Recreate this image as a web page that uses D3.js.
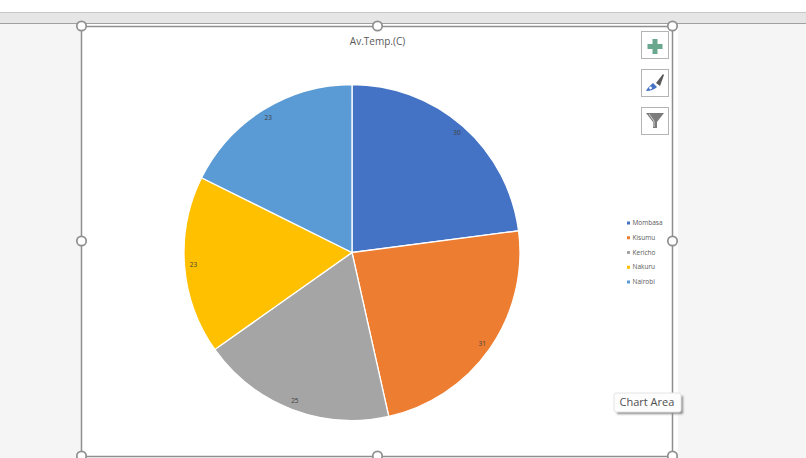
<!DOCTYPE html>
<html>
<head>
<meta charset="utf-8">
<script src="https://cdn.jsdelivr.net/npm/d3@7"></script>
<style>
  html, body { margin: 0; padding: 0; background: #fff; overflow: hidden; }
  text { font-family: "Open Sans", "Noto Sans", sans-serif; }
</style>
</head>
<body>
<svg id="chart" width="806" height="458"></svg>
<script>
const chartTitle = "Av.Temp.(C)";
const cities = ["Mombasa", "Kisumu", "Kericho", "Nakuru", "Nairobi"];
// labels show whole degrees, decimals
const temps = [30.4, 31.2, 24.8, 22.7, 23.4];
const colors = ["#4472C4", "#ED7D31", "#A5A5A5", "#FFC000", "#5B9BD5"];

const width = 806, height = 458;
const svg = d3.select("#chart");

const blur = svg.append("defs").append("filter").attr("id", "soft");
blur.append("feGaussianBlur").attr("stdDeviation", 1);

// window chrome behind the chart
svg.append("rect").attr("width", width).attr("height", height).attr("fill", "#f5f5f5");
svg.append("rect").attr("width", width).attr("height", 12).attr("fill", "#fff");
svg.append("rect").attr("y", 12).attr("width", width).attr("height", 12).attr("fill", "#e6e6e6");
svg.append("line").attr("x1", 0).attr("x2", width).attr("y1", 12.5).attr("y2", 12.5).attr("stroke", "#c8c8c8");
svg.append("line").attr("x1", 0).attr("x2", width).attr("y1", 23.5).attr("y2", 23.5).attr("stroke", "#a0a0a0");

// chart area
svg.append("rect").attr("x", 82).attr("y", 24).attr("width", 596).attr("height", 434).attr("fill", "#fff");
svg.append("rect").attr("x", 81.5).attr("y", 26.5).attr("width", 591).attr("height", 430)
  .attr("fill", "none").attr("stroke", "#8f8f8f").attr("stroke-width", 1.5);

svg.append("text").attr("x", 377.5).attr("y", 45)
  .attr("text-anchor", "middle").attr("font-size", 10).attr("fill", "#595959")
  .text(chartTitle);

// pie
const radius = 168;
const pie = d3.pie().sort(null)(temps);
const arc = d3.arc().innerRadius(0).outerRadius(radius);
const labelArc = d3.arc().innerRadius(159).outerRadius(159);
const fmt = d3.format(".0f");

const g = svg.append("g").attr("transform", "translate(352,252.5)");

g.selectAll("path")
  .data(pie)
  .enter().append("path")
  .attr("d", arc)
  .attr("fill", (d, i) => colors[i])
  .attr("stroke", "#fff")
  .attr("stroke-width", 1.3);

g.selectAll("text")
  .data(pie)
  .enter().append("text")
  .attr("transform", d => `translate(${labelArc.centroid(d)})`)
  .attr("text-anchor", "middle")
  .attr("dy", "0.35em")
  .attr("font-size", 6.5)
  .attr("fill", "#404040")
  .text(d => fmt(d.data));

// legend
const legendY = d3.scalePoint().domain(cities).range([223, 282]);
const legend = svg.append("g").selectAll("g")
  .data(cities)
  .enter().append("g")
  .attr("transform", d => `translate(627,${legendY(d)})`);

legend.append("rect")
  .attr("x", 0).attr("y", -1.5).attr("width", 3).attr("height", 3)
  .attr("fill", (d, i) => colors[i]);

legend.append("text")
  .attr("x", 5.5).attr("dy", "0.32em")
  .attr("font-size", 6.5).attr("fill", "#595959")
  .text(d => d);

// selection handles
const handles = [[81.5, 26], [377.5, 26], [672.5, 26], [81.5, 241], [672.5, 241], [81.5, 456], [377.5, 456], [672.5, 456]];
svg.append("g").selectAll("circle")
  .data(handles)
  .enter().append("circle")
  .attr("cx", d => d[0]).attr("cy", d => d[1]).attr("r", 4.7)
  .attr("fill", "#fff").attr("stroke", "#8f8f8f").attr("stroke-width", 1.7);

// side buttons
const buttons = [31, 69, 107];
svg.append("g").selectAll("rect")
  .data(buttons)
  .enter().append("rect")
  .attr("x", 641.5).attr("y", d => d + 0.5).attr("width", 27).attr("height", 27)
  .attr("fill", "#fff").attr("stroke", "#b4b4b4");

svg.append("path")
  .attr("d", "M652.5,39h5v5h5v5h-5v5h-5v-5h-5v-5h5z")
  .attr("fill", "#6aa78f");
svg.append("path")
  .attr("d", "M646,91C648,87 651,85 653,83L657,87C655,89 651,91 646,91z")
  .attr("fill", "#4472C4");
svg.append("circle").attr("cx", 650.5).attr("cy", 88).attr("r", 1.4).attr("fill", "#fff");
svg.append("path")
  .attr("d", "M656,83L663,74L664,75L660,86z")
  .attr("fill", "#5a5a5a");
svg.append("path")
  .attr("d", "M646,113H664L657,122V128H653V122z")
  .attr("fill", "#7b7b7b");
svg.append("path")
  .attr("d", "M649,114L654,121V127")
  .attr("fill", "none").attr("stroke", "#e8e8e8").attr("stroke-width", 0.8);

// tooltip
svg.append("rect").attr("x", 617).attr("y", 396).attr("width", 66).attr("height", 18)
  .attr("fill", "#8a8a8a").attr("filter", "url(#soft)");
svg.append("rect").attr("x", 614).attr("y", 393).attr("width", 67).attr("height", 19).attr("rx", 2)
  .attr("fill", "#fdfdfd").attr("stroke", "#e4e4e4");
svg.append("text").attr("x", 619.5).attr("y", 406)
  .attr("font-size", 11).attr("fill", "#505050").text("Chart Area");
</script>
</body>
</html>
